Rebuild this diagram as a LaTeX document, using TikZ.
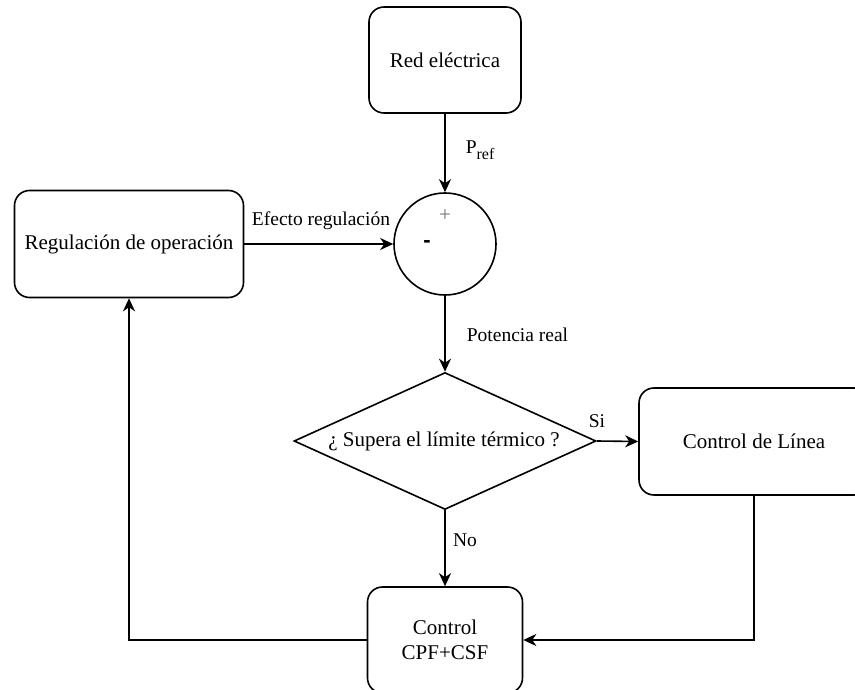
\documentclass[tikz,border=0pt]{standalone}
\usepackage{fontspec}
\setmainfont{Liberation Serif}
\newfontfamily\signfont{Liberation Sans}
\usetikzlibrary{arrows.meta,shapes.geometric}
\begin{document}
\begin{tikzpicture}[x=1pt,y=-1pt,
  line width=1.6pt,
  boxtxt/.style={font=\fontsize{21}{25}\selectfont},
  lbl/.style={font=\fontsize{19.5}{23}\selectfont, inner sep=0pt},
  rbox/.style={draw, rounded corners=15pt, inner sep=0pt, boxtxt, align=center},
  arr/.style={-{Stealth[length=13pt,width=12pt,inset=4pt]}}
]
\useasboundingbox (0,0) rectangle (855,690);
\clip (0,0) rectangle (855,690);

\node[rbox, minimum width=152pt, minimum height=106pt] (red) at (445,60) {Red eléctrica};
\node[rbox, minimum width=229pt, minimum height=107pt] (reg) at (129,244) {Regulación de operación};
\node[draw, circle, minimum size=102pt, inner sep=0pt] (sum) at (445,244) {};
\node[font=\fontsize{21}{23}\selectfont, text=black!55, inner sep=0pt] (plus) at (445,216) {+};
\node[font=\signfont\bfseries\fontsize{22}{24}\selectfont, inner sep=0pt] (minus) at (427,244) {-};
\node[draw, diamond, minimum width=302pt, minimum height=137pt, inner sep=0pt] (dia) at (445,441) {};
\node[boxtxt, inner sep=0pt] (diatxt) at (444,441) {¿ Supera el límite térmico ?};
\node[rbox, minimum width=230pt, minimum height=107pt] (lin) at (754,441.5) {Control de Línea};
\node[rbox, minimum width=155pt, minimum height=106pt] (cpf) at (445,640) {Control\\CPF+CSF};

\draw[arr] (red.south) -- (sum.north);
\draw[arr] (reg.east) -- (sum.west);
\draw[arr] (sum.south) -- (dia.north);
\draw[arr] (dia.east) -- (lin.west);
\draw[arr] (dia.south) -- (cpf.north);
\draw[arr] (lin.south) |- (cpf.east);
\draw[arr] (cpf.west) -| (reg.south);

\node[lbl, anchor=west] (lpref) at (465,150) {P\raisebox{-6pt}{\fontsize{16}{18}\selectfont ref}};
\node[lbl] (leff) at (321,221) {Efecto regulación};
\node[lbl] (lpot) at (517.5,335) {Potencia real};
\node[lbl] (lsi) at (597,421) {Si};
\node[lbl] (lno) at (465,540) {No};
\end{tikzpicture}
\end{document}
